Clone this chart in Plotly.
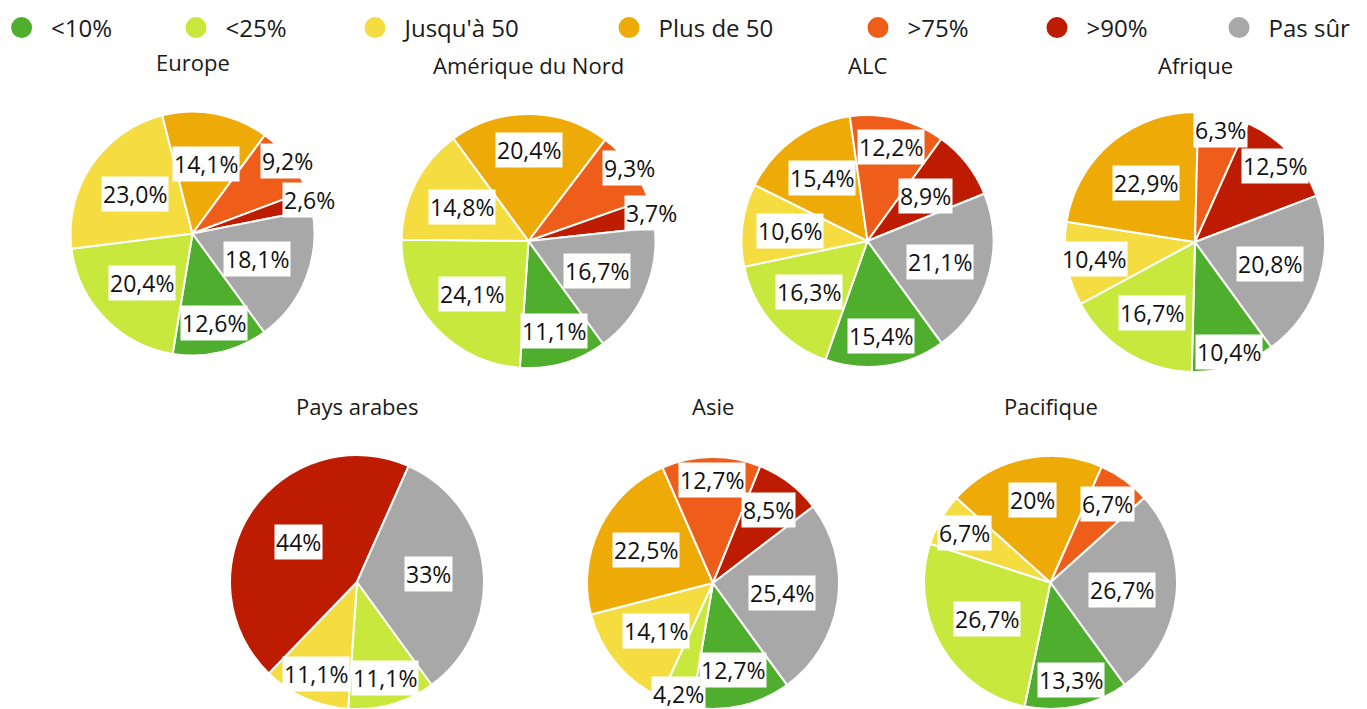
import math
import plotly.graph_objects as go

# ---------------- data ----------------
categories = ["<10%", "<25%", "Jusqu'à 50", "Plus de 50", ">75%", ">90%", "Pas sûr"]

regions = ["Europe", "Amérique du Nord", "ALC", "Afrique", "Pays arabes", "Asie", "Pacifique"]

europe = [12.6, 20.4, 23.0, 14.1, 9.2, 2.6, 18.1]
amerique_nord = [11.1, 24.1, 14.8, 20.4, 9.3, 3.7, 16.7]
alc = [15.4, 16.3, 10.6, 15.4, 12.2, 8.9, 21.1]
afrique = [10.4, 16.7, 10.4, 22.9, 6.3, 12.5, 20.8]
pays_arabes = [0, 11.1, 11.1, 0, 0, 44.4, 33.3]
asie = [12.7, 4.2, 14.1, 22.5, 12.7, 8.5, 25.4]
pacifique = [13.3, 26.7, 6.7, 20.0, 6.7, 0, 26.7]

europe_labels = ["12,6%", "20,4%", "23,0%", "14,1%", "9,2%", "2,6%", "18,1%"]
amerique_nord_labels = ["11,1%", "24,1%", "14,8%", "20,4%", "9,3%", "3,7%", "16,7%"]
alc_labels = ["15,4%", "16,3%", "10,6%", "15,4%", "12,2%", "8,9%", "21,1%"]
afrique_labels = ["10,4%", "16,7%", "10,4%", "22,9%", "6,3%", "12,5%", "20,8%"]
pays_arabes_labels = ["", "11,1%", "11,1%", "", "", "44%", "33%"]
asie_labels = ["12,7%", "4,2%", "14,1%", "22,5%", "12,7%", "8,5%", "25,4%"]
pacifique_labels = ["13,3%", "26,7%", "6,7%", "20%", "6,7%", "", "26,7%"]

values = [europe, amerique_nord, alc, afrique, pays_arabes, asie, pacifique]
labels = [europe_labels, amerique_nord_labels, alc_labels, afrique_labels,
          pays_arabes_labels, asie_labels, pacifique_labels]

# ---------------- style / layout ----------------
W, H = 1367, 709
FONT = "Open Sans"
colors = ["#4FAE2D", "#C8E83D", "#F5DC41", "#EEAB07", "#EE5E1A", "#BD1C00", "#A8A8A8"]
ROTATION = 144  # first slice start angle, clockwise from 12 o'clock

# pie centre (px from left, px from top) and radius (px)
pie_geom = [
    (192.5, 233.5, 122),
    (528.5, 241.0, 127),
    (867.5, 241.0, 126),
    (1195.0, 242.0, 130),
    (357.0, 582.0, 127),
    (713.0, 583.0, 126),
    (1050.5, 582.5, 126.5),
]
title_y = [62, 65, 65, 65, 406, 406, 406]

# radial position of each slice label as a fraction of the radius
label_radius = [
    [0.75, 0.58, 0.57, 0.58, 0.98, 1.00, 0.57],
    [0.74, 0.61, 0.59, 0.72, 0.98, 0.99, 0.59],
    [0.76, 0.62, 0.62, 0.62, 0.77, 0.58, 0.60],
    [0.89, 0.64, 0.79, 0.59, 0.88, 0.85, 0.60],
    [0.60, 0.79, 0.79, 0.60, 0.60, 0.56, 0.57],
    [0.71, 0.92, 0.59, 0.59, 0.82, 0.73, 0.55],
    [0.79, 0.58, 0.78, 0.67, 0.77, 0.60, 0.57],
]

legend_centers = [21.6, 196, 375, 629, 878, 1057, 1239]
ITEMWIDTH = 49

fig = go.Figure()
annotations = []

for k, region in enumerate(regions):
    cx, cy, r = pie_geom[k]
    dom_x = [max(0, (cx - r) / W), min(1, (cx + r) / W)]
    dom_y = [max(0, (H - cy - r) / H), min(1, (H - cy + r) / H)]
    fig.add_trace(go.Pie(
        labels=categories,
        values=values[k],
        sort=False,
        direction="clockwise",
        rotation=ROTATION,
        marker=dict(colors=colors, line=dict(color="white", width=2)),
        textinfo="none",
        hoverinfo="label+percent",
        showlegend=False,
        domain=dict(x=dom_x, y=dom_y),
        name=region,
    ))
    # title
    annotations.append(dict(
        text=region, x=cx / W, y=1 - title_y[k] / H, xref="paper", yref="paper",
        xanchor="center", yanchor="middle", showarrow=False,
        font=dict(family=FONT, size=22, color="#1a1a1a"),
    ))
    # slice labels
    total = sum(values[k])
    cum = 0.0
    for i, v in enumerate(values[k]):
        mid = ROTATION + (cum + v / 2) / total * 360
        cum += v
        if v <= 0 or not labels[k][i]:
            continue
        rho = label_radius[k][i] * r
        px = cx + rho * math.sin(math.radians(mid))
        py = cy - rho * math.cos(math.radians(mid))
        annotations.append(dict(
            text=labels[k][i], x=px / W, y=1 - py / H, xref="paper", yref="paper",
            xanchor="center", yanchor="middle", showarrow=False,
            bgcolor="white", borderpad=1,
            font=dict(family=FONT, size=23, color="#111111"),
        ))

# legend entries (circle markers), one legend per item for exact placement
legend_layouts = {}
for i, cat in enumerate(categories):
    lname = "legend" if i == 0 else f"legend{i + 1}"
    fig.add_trace(go.Scatter(
        x=[None], y=[None], mode="markers", name=cat,
        marker=dict(size=16, color=colors[i], symbol="circle",
                    line=dict(width=5, color=colors[i])),
        legend=lname, showlegend=True, hoverinfo="skip",
    ))
    legend_layouts[lname] = dict(
        x=(legend_centers[i] - (ITEMWIDTH + 10) / 2) / W, y=1 - 28 / H,
        xanchor="left", yanchor="middle", orientation="h",
        itemwidth=ITEMWIDTH, bgcolor="rgba(0,0,0,0)", borderwidth=0,
        font=dict(family=FONT, size=24, color="#1a1a1a"),
        itemclick=False, itemdoubleclick=False,
    )

fig.update_layout(
    width=W, height=H,
    margin=dict(l=0, r=0, t=0, b=0, pad=0, autoexpand=False),
    paper_bgcolor="white", plot_bgcolor="white",
    xaxis=dict(visible=False), yaxis=dict(visible=False),
    font=dict(family=FONT),
    annotations=annotations,
    **legend_layouts,
)

fig.write_html(
    "out.html",
    config={"displayModeBar": False},
    post_script="document.body.style.margin='0';document.body.style.overflow='hidden';",
)
